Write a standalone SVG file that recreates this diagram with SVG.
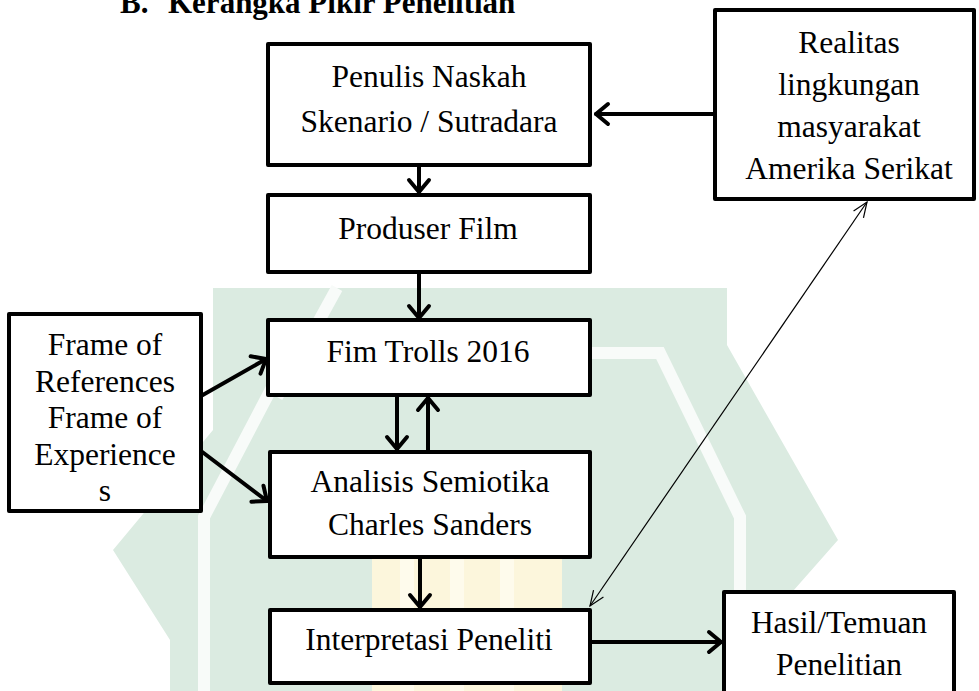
<svg xmlns="http://www.w3.org/2000/svg" width="979" height="691" viewBox="0 0 979 691">
<style>
.box{fill:#fff;stroke:#000;stroke-width:4;stroke-linejoin:round}
.t{font-family:"Liberation Serif","Times New Roman",serif;font-size:31.5px;fill:#000;text-anchor:middle}
.title{font-family:"Liberation Serif","Times New Roman",serif;font-size:31px;font-weight:bold;fill:#000}
.conn{stroke:#000;stroke-width:4;fill:none;stroke-linecap:round}
.thin{stroke:#000;stroke-width:1.2;fill:none}
.wm{fill:#dbebe1}
.wmw{fill:none;stroke:#f8fbf9;stroke-width:12;stroke-linejoin:miter}
.wmy{fill:#fcf6dc}
</style>
<defs>
<marker id="ah" markerUnits="userSpaceOnUse" viewBox="-14 -12 16 24" markerWidth="16" markerHeight="24" refX="0" refY="0" orient="auto" overflow="visible">
<path d="M-12,-10 L0,0 L-12,10" fill="none" stroke="#000" stroke-width="4" stroke-linecap="round" stroke-linejoin="round"/>
</marker>
<marker id="ahThin" markerUnits="userSpaceOnUse" viewBox="-16 -8 18 16" markerWidth="18" markerHeight="16" refX="0" refY="0" orient="auto-start-reverse" overflow="visible">
<path d="M-15,-6 L0,0 L-15,6" fill="none" stroke="#000" stroke-width="1.2"/>
</marker>
</defs>
<rect x="0" y="0" width="979" height="691" fill="#fff"/>
<g id="watermark">
<polygon class="wm" points="213,288 727,288 727,345 838,540 750,640 750,691 170,691 170,640 113,550 213,430"/>
<path class="wmw" d="M204,691 L204,517 L290,353 L660,353 L740,517 L740,691"/>
<path class="wmw" d="M337,288 L277,397"/>
<rect class="wmy" x="372" y="520" width="190" height="171"/>
<rect x="400" y="520" width="14" height="171" fill="#fefbec"/>
<rect x="450" y="520" width="14" height="171" fill="#fefbec"/>
<rect x="500" y="520" width="14" height="171" fill="#fefbec"/>
</g>
<text class="title"><tspan x="120" y="13">B.</tspan><tspan x="168" y="13">Kerangka Pikir Penelitian</tspan></text>
<g id="connectors">
<line class="conn" x1="715" y1="114" x2="596" y2="114" marker-end="url(#ah)"/>
<line class="conn" x1="419" y1="165" x2="419" y2="192" marker-end="url(#ah)"/>
<line class="conn" x1="419" y1="272" x2="419" y2="318" marker-end="url(#ah)"/>
<line class="conn" x1="397" y1="395" x2="397" y2="449" marker-end="url(#ah)"/>
<line class="conn" x1="428" y1="452" x2="428" y2="398" marker-end="url(#ah)"/>
<line class="conn" x1="201" y1="396" x2="266" y2="359" marker-end="url(#ah)"/>
<line class="conn" x1="201" y1="451" x2="267" y2="501" marker-end="url(#ah)"/>
<line class="conn" x1="420" y1="557" x2="420" y2="607" marker-end="url(#ah)"/>
<line class="conn" x1="590" y1="642" x2="721" y2="642" marker-end="url(#ah)"/>
<line class="thin" x1="590" y1="606" x2="867" y2="202" marker-start="url(#ahThin)" marker-end="url(#ahThin)"/>
</g>
<g id="penulis">
<rect class="box" x="268" y="44" width="322" height="121"/>
<text class="t"><tspan x="429" y="87">Penulis Naskah</tspan><tspan x="429" y="132">Skenario / Sutradara</tspan></text>
</g>
<g id="realitas">
<rect class="box" x="715" y="10" width="259" height="189"/>
<text class="t"><tspan x="849" y="53">Realitas</tspan><tspan x="849" y="95">lingkungan</tspan><tspan x="849" y="137">masyarakat</tspan><tspan x="849" y="179">Amerika Serikat</tspan></text>
</g>
<g id="produser">
<rect class="box" x="268" y="195" width="322" height="77"/>
<text class="t" x="428" y="239">Produser Film</text>
</g>
<g id="film">
<rect class="box" x="268" y="320" width="322" height="75"/>
<text class="t" x="428" y="362">Fim Trolls 2016</text>
</g>
<g id="frame">
<rect class="box" x="9" y="314" width="192" height="197"/>
<text class="t"><tspan x="105" y="355">Frame of</tspan><tspan x="105" y="391.5">References</tspan><tspan x="105" y="428">Frame of</tspan><tspan x="105" y="464.5">Experience</tspan><tspan x="105" y="501">s</tspan></text>
</g>
<g id="analisis">
<rect class="box" x="270" y="452" width="320" height="105"/>
<text class="t"><tspan x="430" y="492">Analisis Semiotika</tspan><tspan x="430" y="535">Charles Sanders</tspan></text>
</g>
<g id="interpretasi">
<rect class="box" x="270" y="610" width="320" height="73"/>
<text class="t" x="429" y="650">Interpretasi Peneliti</text>
</g>
<g id="hasil">
<rect class="box" x="724" y="592" width="230" height="112"/>
<text class="t"><tspan x="839" y="633">Hasil/Temuan</tspan><tspan x="839" y="675">Penelitian</tspan></text>
</g>
</svg>
